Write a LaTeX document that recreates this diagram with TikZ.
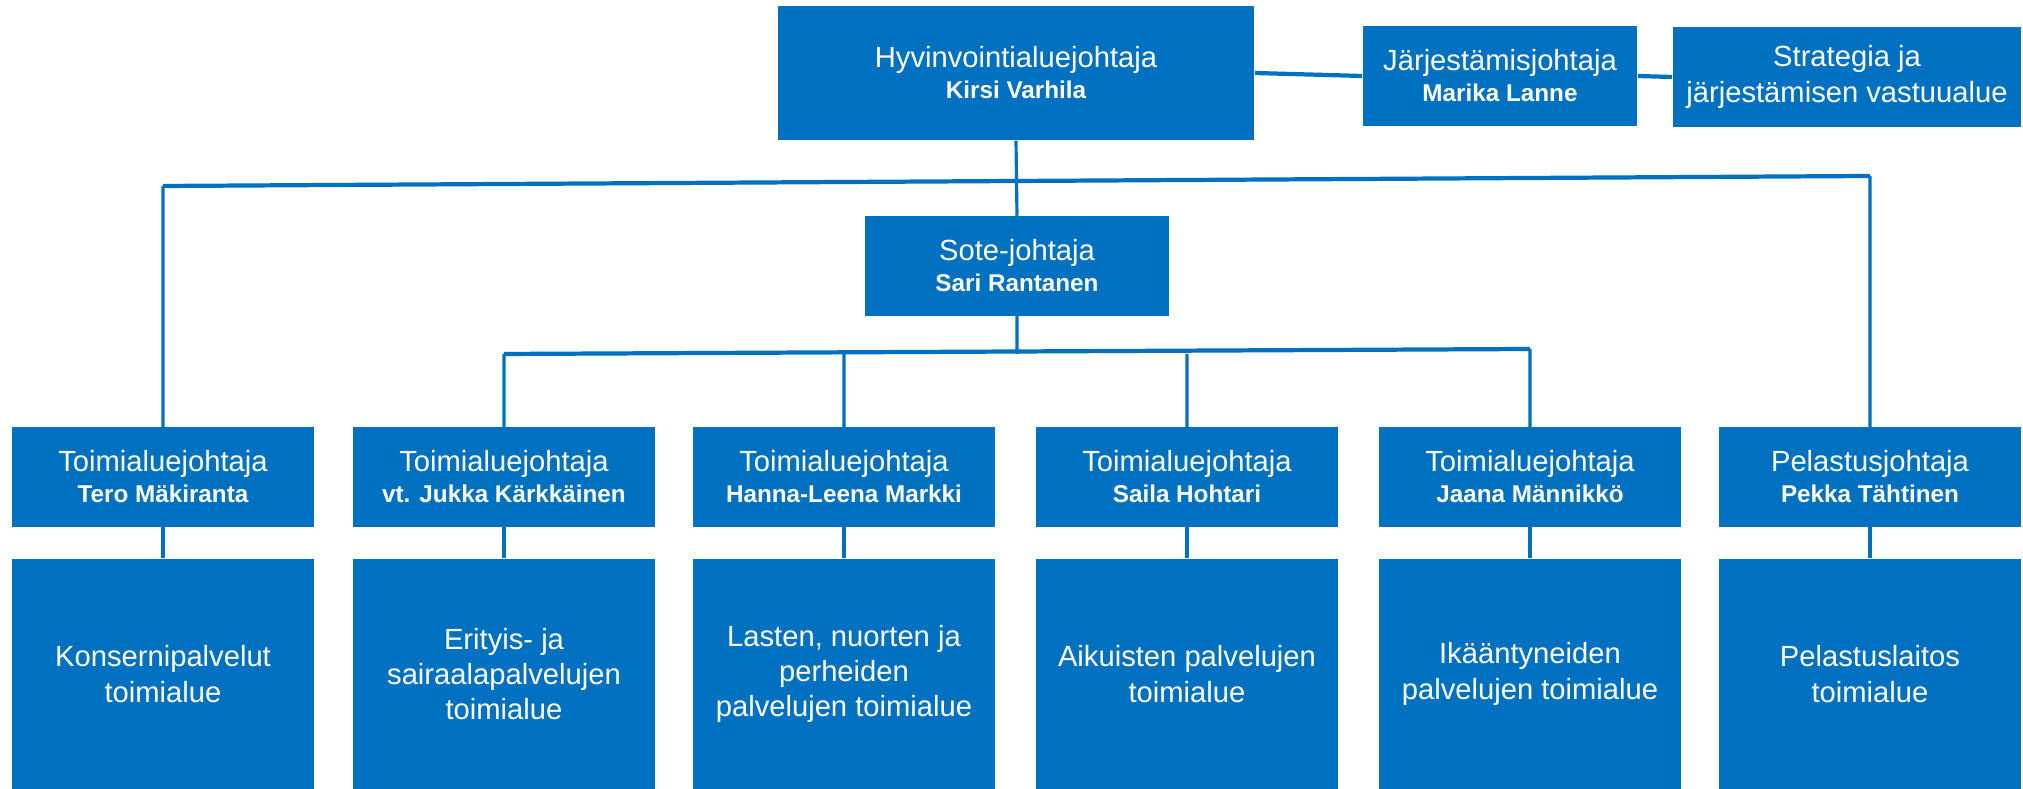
\documentclass[tikz,border=0pt]{standalone}
\usepackage{fontspec}
\setmainfont{Liberation Sans}
\definecolor{orgblue}{RGB}{0,112,192}
\newcommand{\nimi}[1]{{\fontsize{6.9}{8.8}\selectfont\bfseries #1}}

\begin{document}
\begin{tikzpicture}[x = 0.01cm, y = -0.01cm,
        block/.style = {fill = orgblue, text = white, align = center, inner sep = 0pt, minimum width = 3.02cm, minimum height = #1, font = \fontsize{8.3}{8.8}\selectfont},
        tall/.style = {block = 2.3cm, font = \fontsize{8.3}{10}\selectfont},
        link/.style = {draw = orgblue, line width = 0.9pt},
        bus/.style = {draw = orgblue, line width = 1.2pt}]
    \useasboundingbox (0, 0) rectangle (2023, 789);
    \path (1016, 73) node[block = 1.34cm, minimum width = 4.76cm] (hyv) {Hyvinvointialuejohtaja\\\nimi{Kirsi Varhila}}
          (1500, 76) node[block = 0.99cm, minimum width = 2.74cm] (jarj) {Järjestämisjohtaja\\\nimi{Marika Lanne}}
          (1847, 77) node[block = 1cm, minimum width = 3.48cm, font = \fontsize{8.3}{10}\selectfont] (strat) {Strategia ja\\järjestämisen vastuualue}
          (1017, 266) node[block = 0.99cm, minimum width = 3.03cm] (sote) {Sote-johtaja\\\nimi{Sari Rantanen}};
    \path (163, 477) node[block = 0.99cm] (tj1) {Toimialuejohtaja\\\nimi{Tero Mäkiranta}}
          (504, 477) node[block = 0.99cm] (tj2) {Toimialuejohtaja\\\nimi{vt. Jukka Kärkkäinen}}
          (844, 477) node[block = 0.99cm] (tj3) {Toimialuejohtaja\\\nimi{Hanna-Leena Markki}}
          (1187, 477) node[block = 0.99cm] (tj4) {Toimialuejohtaja\\\nimi{Saila Hohtari}}
          (1530, 477) node[block = 0.99cm] (tj5) {Toimialuejohtaja\\\nimi{Jaana Männikkö}}
          (1870, 477) node[block = 0.99cm] (tj6) {Pelastusjohtaja\\\nimi{Pekka Tähtinen}};
    \path (163, 674) node[tall] (ta1) {Konsernipalvelut\\toimialue}
          (504, 674) node[tall] (ta2) {Erityis- ja\\sairaalapalvelujen\\toimialue}
          (844, 674) node[tall] (ta3) {Lasten, nuorten ja\\perheiden\\palvelujen toimialue}
          (1187, 674) node[tall] (ta4) {Aikuisten palvelujen\\toimialue}
          (1530, 674) node[tall] (ta5) {Ikääntyneiden\\palvelujen toimialue}
          (1870, 674) node[tall] (ta6) {Pelastuslaitos\\toimialue};
    \coordinate (ylaL) at (163, 186);
    \coordinate (ylaR) at (1870, 176);
    \coordinate (alaL) at (504, 354);
    \coordinate (alaR) at (1530, 349);
    \draw[bus] (hyv.east) -- (jarj.west) (jarj.east) -- (strat.west);
    \draw[bus] (ylaL) -- (ylaR) (alaL) -- (alaR);
    \draw[link] (hyv.south) -- (sote.north)
                (sote.south) -- (sote.south |- alaL)
                (tj1.north) -- (ylaL)
                (tj6.north) -- (ylaR)
                (tj2.north) -- (alaL)
                (tj3.north) -- (tj3.north |- alaL)
                (tj4.north) -- (tj4.north |- alaL)
                (tj5.north) -- (alaR);
    \foreach \i in {1, ..., 6}
        \draw[link] (tj\i.south) -- (ta\i.north);
\end{tikzpicture}
\end{document}
